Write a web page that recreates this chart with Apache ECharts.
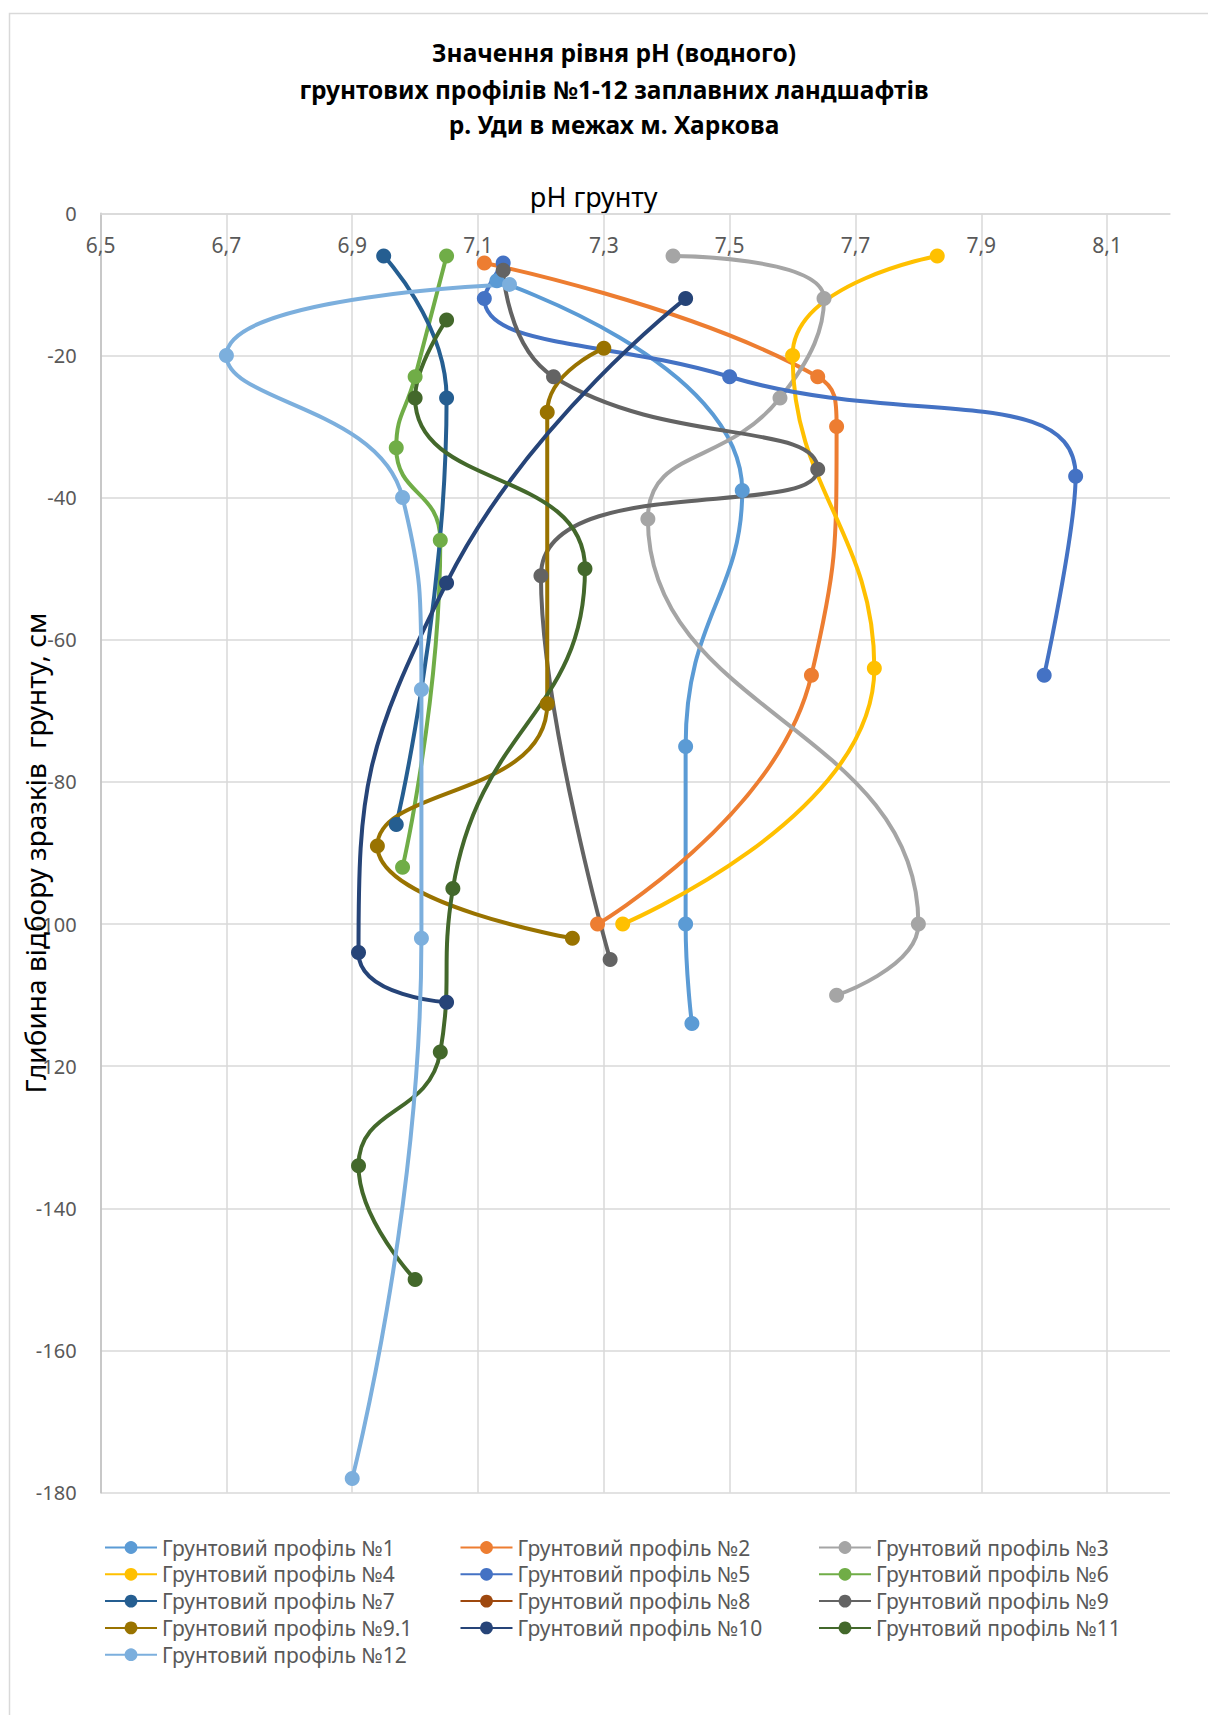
<!DOCTYPE html>
<html>
<head>
<meta charset="utf-8">
<script src="https://cdn.jsdelivr.net/npm/echarts@6/dist/echarts.min.js"></script>
<style>
html,body{margin:0;padding:0;background:#fff;}
#chart{width:1208px;height:1715px;}
</style>
</head>
<body>
<div id="chart"></div>
<script>
// ---- data: [pH, depth cm] ----
const seriesNames = [
  'Грунтовий профіль №1','Грунтовий профіль №2','Грунтовий профіль №3',
  'Грунтовий профіль №4','Грунтовий профіль №5','Грунтовий профіль №6',
  'Грунтовий профіль №7','Грунтовий профіль №8','Грунтовий профіль №9',
  'Грунтовий профіль №9.1','Грунтовий профіль №10','Грунтовий профіль №11',
  'Грунтовий профіль №12'
];
const profile1 = [[7.13,-9.5],[7.52,-39],[7.43,-75],[7.43,-100],[7.44,-114]];
const profile2 = [[7.11,-7],[7.64,-23],[7.67,-30],[7.63,-65],[7.29,-100]];
const profile3 = [[7.41,-6],[7.65,-12],[7.58,-26],[7.37,-43],[7.80,-100],[7.67,-110]];
const profile4 = [[7.83,-6],[7.60,-20],[7.73,-64],[7.33,-100]];
const profile5 = [[7.14,-7],[7.11,-12],[7.50,-23],[8.05,-37],[8.00,-65]];
const profile6 = [[7.05,-6],[7.00,-23],[6.97,-33],[7.04,-46],[6.98,-92]];
const profile7 = [[6.95,-6],[7.05,-26],[6.97,-86]];
const profile8 = [];
const profile9 = [[7.14,-8],[7.22,-23],[7.64,-36],[7.20,-51],[7.31,-105]];
const profile91 = [[7.30,-19],[7.21,-28],[7.21,-69],[6.94,-89],[7.25,-102]];
const profile10 = [[7.43,-12],[7.05,-52],[6.91,-104],[7.05,-111]];
const profile11 = [[7.05,-15],[7.00,-26],[7.27,-50],[7.06,-95],[7.04,-118],[6.91,-134],[7.00,-150]];
const profile12 = [[7.15,-10],[6.70,-20],[6.98,-40],[7.01,-67],[7.01,-102],[6.90,-178]];
const xTickLabels = ['6,5','6,7','6,9','7,1','7,3','7,5','7,7','7,9','8,1'];
const yTickLabels = ['0','-20','-40','-60','-80','-100','-120','-140','-160','-180'];
const titleLines = ['Значення рівня рН (водного)','грунтових профілів №1-12 заплавних ландшафтів','р. Уди в межах м. Харкова'];

const profiles = [profile1,profile2,profile3,profile4,profile5,profile6,profile7,profile8,profile9,profile91,profile10,profile11,profile12];
const colors = ['#5B9BD5','#ED7D31','#A5A5A5','#FFC000','#4472C4','#70AD47','#255E91','#9E480E','#636363','#997300','#264478','#43682B','#7CAFDD'];

const FONT = 'Noto Sans';
const chart = echarts.init(document.getElementById('chart'), null, {renderer:'svg'});

const legendCommon = {
  orient:'vertical', top:1537, padding:0, itemWidth:52, itemHeight:16, itemGap:5.8,
  textStyle:{fontSize:21, color:'#595959', fontFamily:FONT}
};

const titleStyle = {textAlign:'center', textVerticalAlign:'middle', fontSize:24.5, fontWeight:'bold', fontFamily:FONT, fill:'#000'};

chart.setOption({
  animation:false,
  backgroundColor:'#fff',
  textStyle:{fontFamily:FONT},
  color:colors,
  graphic:[
    {type:'rect', shape:{x:9.5, y:13.5, width:1400, height:2000}, style:{fill:'none', stroke:'#D9D9D9', lineWidth:1.5}, silent:true, z:-10},
    {type:'text', x:614, y:52.5, style:Object.assign({text:titleLines[0]}, titleStyle)},
    {type:'text', x:614, y:89.7, style:Object.assign({text:titleLines[1]}, titleStyle)},
    {type:'text', x:614, y:124.7, style:Object.assign({text:titleLines[2]}, titleStyle)},
    {type:'text', x:593.7, y:196, style:{text:'pH грунту', textAlign:'center', textVerticalAlign:'middle', fontSize:27, fontFamily:FONT, fill:'#000'}}
  ],
  grid:{left:100.6, right:38, top:213.3, bottom:222.3, containLabel:false, outerBoundsMode:'none'},
  xAxis:{
    type:'value', position:'top', min:6.5, max:8.2, interval:0.2,
    axisLine:{show:true, onZero:false, lineStyle:{color:'#D9D9D9', width:1.5}},
    axisTick:{show:false},
    axisLabel:{inside:true, margin:21, fontSize:21, color:'#595959', showMaxLabel:false,
      formatter:function(v){ const i = Math.round((v-6.5)/0.2); return xTickLabels[i] || ''; }},
    splitLine:{show:true, showMaxLine:false, lineStyle:{color:'#D9D9D9', width:1.5}}
  },
  yAxis:{
    type:'value', min:-180, max:0, interval:20,
    name:'Глибина відбору зразків  грунту, см', nameLocation:'middle', nameGap:52, nameMoveOverlap:false,
    nameTextStyle:{fontSize:28, color:'#000', fontFamily:FONT},
    axisLine:{show:true, lineStyle:{color:'#BFBFBF', width:1.5}},
    axisTick:{show:false},
    axisLabel:{margin:24, fontSize:20, color:'#595959',
      formatter:function(v){ const i = Math.round(-v/20); return yTickLabels[i] || ''; }},
    splitLine:{show:true, lineStyle:{color:'#D9D9D9', width:1.5}}
  },
  legend:[
    Object.assign({left:104, data:[seriesNames[0],seriesNames[3],seriesNames[6],seriesNames[9],seriesNames[12]]}, legendCommon),
    Object.assign({left:459.5, data:[seriesNames[1],seriesNames[4],seriesNames[7],seriesNames[10]]}, legendCommon),
    Object.assign({left:818, data:[seriesNames[2],seriesNames[5],seriesNames[8],seriesNames[11]]}, legendCommon)
  ],
  series: profiles.map(function(p, i){
    return {
      name:seriesNames[i], type:'line', data:p, smooth:0.5,
      symbol:'circle', symbolSize:15, showAllSymbol:true,
      lineStyle:{width:4, color:colors[i]},
      itemStyle:{color:colors[i]},
      emphasis:{disabled:true}
    };
  })
});
</script>
</body>
</html>
